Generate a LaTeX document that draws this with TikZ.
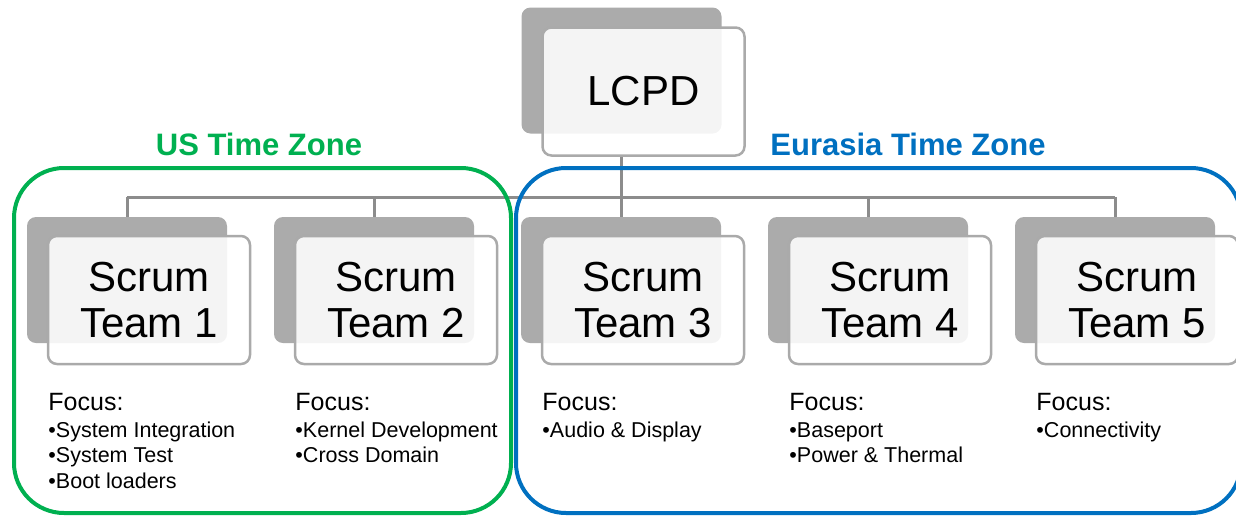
\documentclass[tikz,border=0pt]{standalone}
\usepackage{fontspec}
\setmainfont{Liberation Sans}
\usepackage{tikz}
\usetikzlibrary{positioning, calc}
\definecolor{usgreen}{RGB}{0, 176, 80}
\definecolor{eablue}{RGB}{0, 112, 192}
\definecolor{shadowgray}{RGB}{171, 171, 171}
\definecolor{edgegray}{RGB}{170, 170, 170}
\definecolor{linkgray}{RGB}{140, 140, 140}

\tikzset{
    shadowbox/.style={fill=shadowgray, rounded corners=9pt, minimum width=200pt, minimum height=126pt, inner sep=0pt},
    frontbox/.style={draw=edgegray, line width=2.5pt, fill=white, fill opacity=0.88, text opacity=1,
        rounded corners=9pt, minimum width=202pt, minimum height=128pt, inner sep=0pt,
        align=center, font=\fontsize{42}{46}\selectfont},
    link/.style={draw=linkgray, line width=3pt},
    zonetitle/.style={anchor=base, font=\fontsize{31}{34}\selectfont\bfseries},
    focuslabel/.style={anchor=base west, inner sep=0pt, font=\fontsize{25}{27}\selectfont},
    focusitem/.style={anchor=base west, inner sep=0pt, font=\fontsize{21.5}{25}\selectfont},
}

\begin{document}
\begin{tikzpicture}[x=1pt, y=-1pt]
    \useasboundingbox (0,0) rectangle (1236,517);

    % top box
    \node[shadowbox] (lcpdsh) at (621.5,70.5) {};
    \coordinate (bus) at (0,197);
    \node[frontbox] (lcpd) at ($(lcpdsh.center)+(22,21)$) {LCPD};
    \draw[link] (lcpdsh.center |- lcpd.south) -- (lcpdsh.center |- bus);

    % team boxes
    \foreach \i in {1,...,5} {
        \node[shadowbox] (team\i sh) at ({127+247*(\i-1)},280) {};
        \draw[link] (team\i sh.north |- bus) -- (team\i sh.north);
        \node[frontbox] (team\i) at ($(team\i sh.center)+(22,20)$) {Scrum\\Team \i};
    }
    \draw[link] (team1sh.north |- bus) -- (team5sh.north |- bus);

    % focus lists
    \node[focuslabel] (focus1) at ($(team1.west |- 0,410)+(1.5,0)$) {Focus:};
    \node[focusitem] (f1a) at ($(team1.west |- 0,437)+(1.5,0)$) {•System Integration};
    \node[focusitem] (f1b) at ($(team1.west |- 0,462.5)+(1.5,0)$) {•System Test};
    \node[focusitem] (f1c) at ($(team1.west |- 0,488)+(1.5,0)$) {•Boot loaders};

    \node[focuslabel] (focus2) at ($(team2.west |- 0,410)+(1.5,0)$) {Focus:};
    \node[focusitem] (f2a) at ($(team2.west |- 0,437)+(1.5,0)$) {•Kernel Development};
    \node[focusitem] (f2b) at ($(team2.west |- 0,462.5)+(1.5,0)$) {•Cross Domain};

    \node[focuslabel] (focus3) at ($(team3.west |- 0,410)+(1.5,0)$) {Focus:};
    \node[focusitem] (f3a) at ($(team3.west |- 0,437)+(1.5,0)$) {•Audio \& Display};

    \node[focuslabel] (focus4) at ($(team4.west |- 0,410)+(1.5,0)$) {Focus:};
    \node[focusitem] (f4a) at ($(team4.west |- 0,437)+(1.5,0)$) {•Baseport};
    \node[focusitem] (f4b) at ($(team4.west |- 0,462.5)+(1.5,0)$) {•Power \& Thermal};

    \node[focuslabel] (focus5) at ($(team5.west |- 0,410)+(1.5,0)$) {Focus:};
    \node[focusitem] (f5a) at ($(team5.west |- 0,437)+(1.5,0)$) {•Connectivity};

    % time zones
    \draw[usgreen, line width=4pt, rounded corners=50pt] (14,168) rectangle (511,513);
    \draw[eablue, line width=4pt, rounded corners=50pt] (516,168) rectangle (1241,513);
    \node[zonetitle, text=usgreen] (uszone) at (259,155) {US Time Zone};
    \node[zonetitle, text=eablue] (eazone) at (908,155) {Eurasia Time Zone};
\end{tikzpicture}
\end{document}
